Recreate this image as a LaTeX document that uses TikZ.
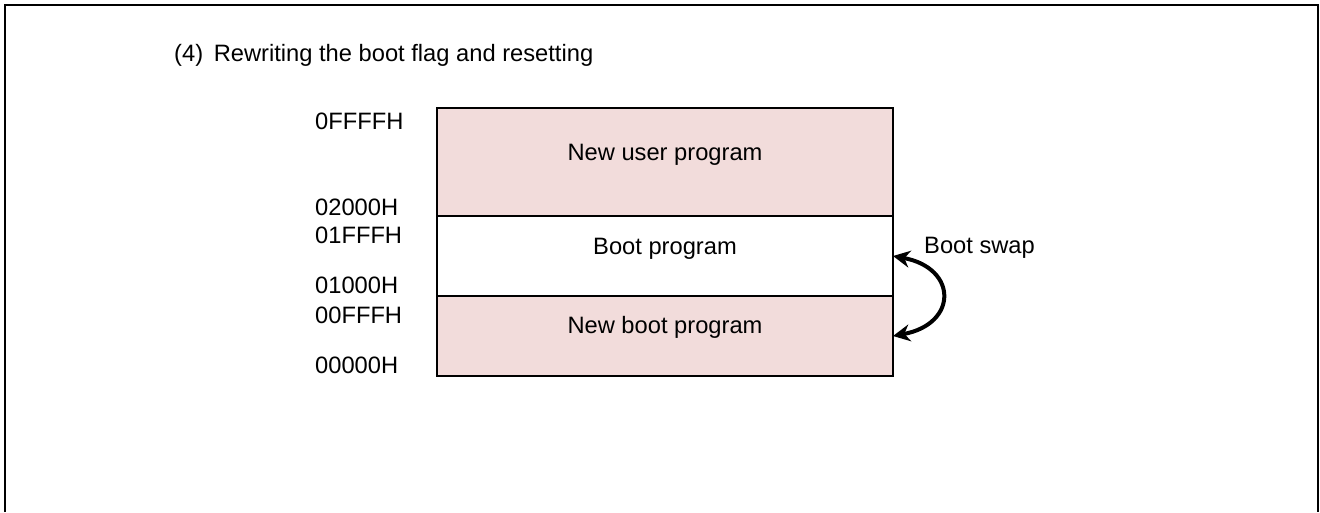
\documentclass[tikz,border=0pt]{standalone}
\usepackage{fontspec}
\setmainfont{Liberation Sans}
\usetikzlibrary{arrows.meta}
\definecolor{flashfill}{RGB}{242,220,219}

\tikzset{
  region/.style={draw, line width=1.5pt, minimum width=456pt, inner sep=0pt, outer sep=0pt},
  txt/.style={anchor=base, inner sep=0pt},
  addr/.style={anchor=base west, inner sep=0pt},
  swaparrow/.style={line width=4pt, {Stealth[length=17pt,width=17pt]}-{Stealth[length=17pt,width=17pt]}}
}

\begin{document}
\begin{tikzpicture}[x=1pt, y=-1pt, font=\fontsize{23.7}{28}\selectfont]
  \useasboundingbox (0,0) rectangle (1320,512);
  \draw[line width=2.2pt] (5,512) -- (5,5) -- (1318,5) -- (1318,512);

  \node[addr] (title) at (174,61) {(4)\hspace{0.45em}Rewriting the boot flag and resetting};

  \node[region, fill=flashfill, minimum height=108pt] (user) at (665,162) {};
  \node[region, minimum height=80pt] (boot) at (665,256) {};
  \node[region, fill=flashfill, minimum height=80pt] (newboot) at (665,336) {};

  \node[txt] (user-txt) at (665,160) {New user program};
  \node[txt] (boot-txt) at (665,254) {Boot program};
  \node[txt] (newboot-txt) at (665,333) {New boot program};

  \foreach \name/\y in {0FFFFH/129, 02000H/215, 01FFFH/243, 01000H/293, 00FFFH/323, 00000H/373} {
    \node[addr] (a-\name) at (315,\y) {\name};
  }

  \draw[swaparrow] (boot.east) .. controls +(65,12) and +(65,-12) .. (newboot.east);
  \node[addr] (swap-lbl) at (924,253) {Boot swap};
\end{tikzpicture}
\end{document}
